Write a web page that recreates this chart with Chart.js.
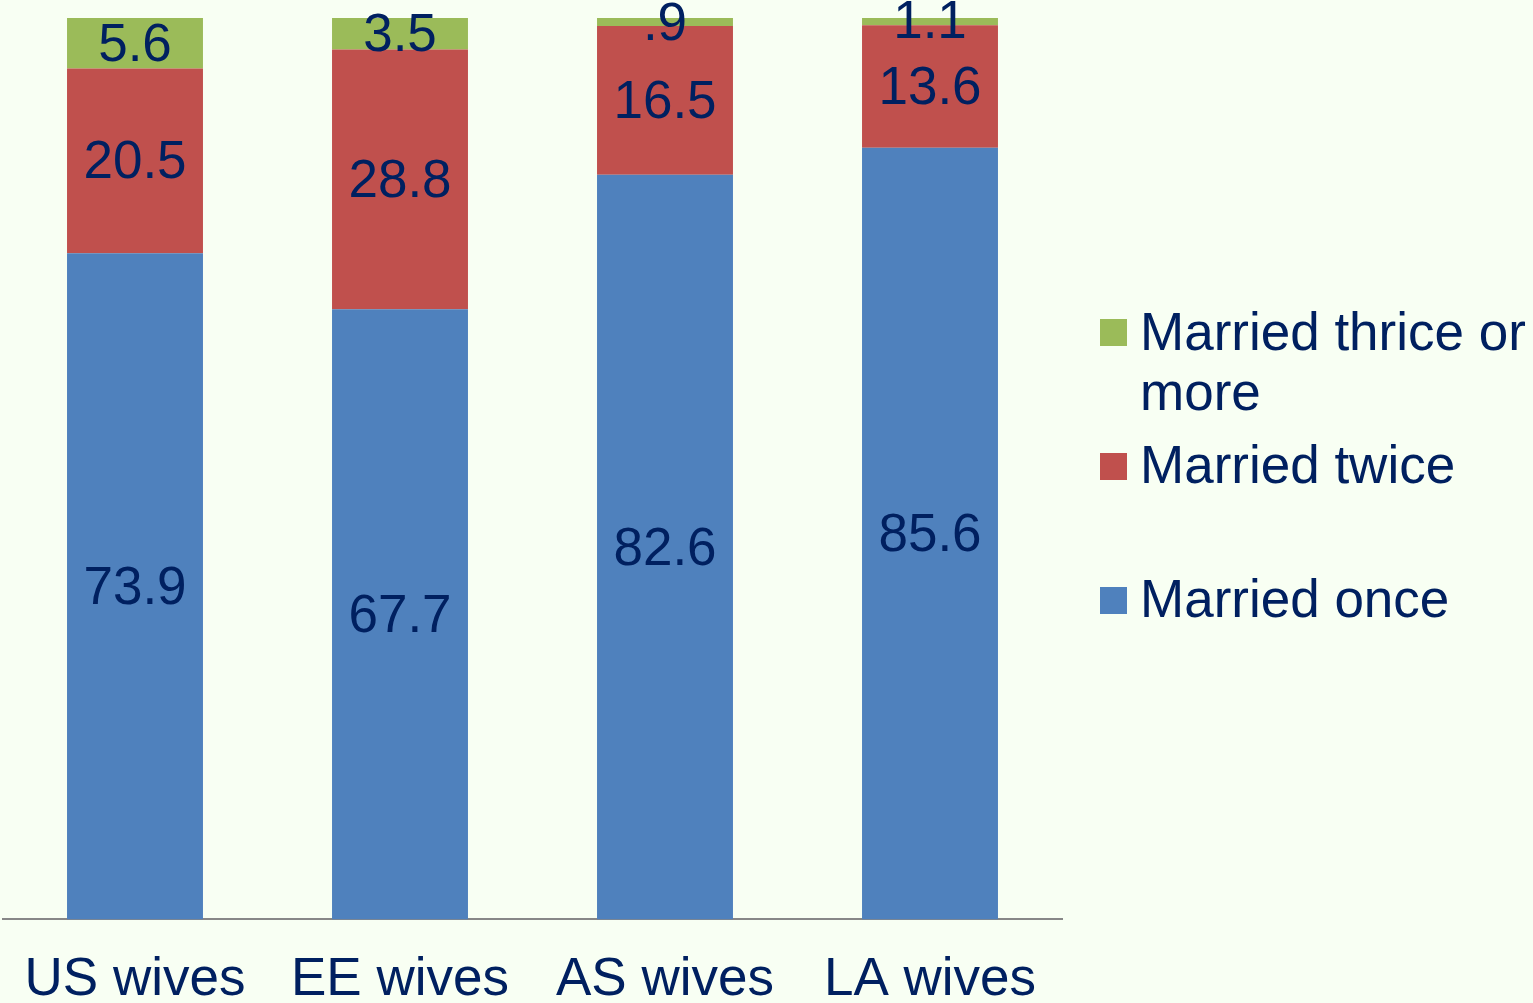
<!DOCTYPE html>
<html>
<head>
<meta charset="utf-8">
<script src="https://cdn.jsdelivr.net/npm/chart.js@4.4.1/dist/chart.umd.min.js"></script>
<style>
  html, body { margin: 0; padding: 0; background: #F8FFF3; overflow: hidden; }
  #wrap { position: relative; width: 1533px; height: 1003px; overflow: hidden; }
  #grafico { position: absolute; left: 0; top: 0; }
  #leyenda { position: absolute; left: 1100px; top: 0; font-family: 'Liberation Sans', Arial, sans-serif; font-size: 53px; color: #002060; }
  .caja { position: absolute; left: 0; width: 27px; height: 27px; }
  .texto { position: absolute; left: 40px; width: 393px; line-height: 60px; }
</style>
</head>
<body>
<div id="wrap">
  <canvas id="grafico" width="1533" height="1033"></canvas>
  <div id="leyenda"></div>
</div>
<script>
const categorias = ['US wives', 'EE wives', 'AS wives', 'LA wives']
const casadaUnaVez = [73.9, 67.7, 82.6, 85.6]
const casadaDosVeces = [20.5, 28.8, 16.5, 13.6]
const casadaTresOMas = [5.6, 3.5, 0.9, 1.1]

const nombres = ['Married once', 'Married twice', 'Married thrice or more']
const colores = ['#4F81BD', '#C0504D', '#9BBB59']
const fuente = "'Liberation Sans', Arial, sans-serif"
const colorTexto = '#002060'

// etiquetas dentro de cada segmento
const etiquetas = {
    id: 'etiquetas',
    afterDatasetsDraw(chart) {
        const ctx = chart.ctx
        ctx.save()
        ctx.font = `53px ${fuente}`
        ctx.fillStyle = colorTexto
        ctx.textAlign = 'center'
        ctx.textBaseline = 'middle'
        chart.data.datasets.forEach((ds, i) => {
            const meta = chart.getDatasetMeta(i)
            meta.data.forEach((barra, j) => {
                const v = ds.data[j]
                const txt = String(v).replace(/^0\./, '.')
                const y = (barra.y + barra.base) / 2 + 3
                ctx.fillText(txt, barra.x, y)
            })
        })
        ctx.restore()
    }
}

const datasets = [
    { label: nombres[0], data: casadaUnaVez, backgroundColor: colores[0] },
    { label: nombres[1], data: casadaDosVeces, backgroundColor: colores[1] },
    { label: nombres[2], data: casadaTresOMas, backgroundColor: colores[2] }
]

const config = {
    type: 'bar',
    data: { labels: categorias, datasets },
    options: {
        responsive: false,
        animation: false,
        devicePixelRatio: 1,
        categoryPercentage: 1,
        barPercentage: 0.513,
        layout: { padding: { left: 2.5, right: 470.5, top: 18, bottom: 0 } },
        plugins: { legend: { display: false }, tooltip: { enabled: false } },
        scales: {
            x: {
                stacked: true,
                grid: { display: false },
                border: { display: true, color: '#878787', width: 2 },
                ticks: { color: colorTexto, font: { family: fuente, size: 53 }, padding: 21, maxRotation: 0 }
            },
            y: {
                stacked: true,
                display: false,
                min: 0,
                max: 100
            }
        }
    },
    plugins: [etiquetas]
}

const grafico = document.querySelector('#grafico')
const chart = new Chart(grafico, config)

// leyenda a la derecha, en orden inverso
const leyenda = document.querySelector('#leyenda')
const filas = [
    { i: 2, caja: 319, texto: 302 },
    { i: 1, caja: 453, texto: 435 },
    { i: 0, caja: 587, texto: 569 }
]
filas.forEach(f => {
    const caja = document.createElement('div')
    caja.className = 'caja'
    caja.style.top = f.caja + 'px'
    caja.style.background = colores[f.i]
    leyenda.appendChild(caja)
    const texto = document.createElement('div')
    texto.className = 'texto'
    texto.style.top = f.texto + 'px'
    texto.textContent = nombres[f.i]
    leyenda.appendChild(texto)
})
</script>
</body>
</html>
